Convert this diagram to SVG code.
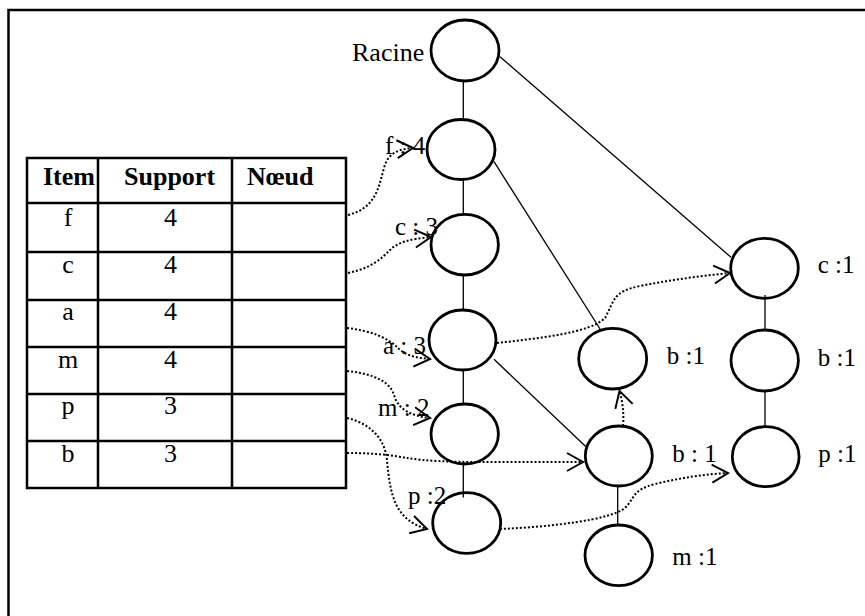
<svg xmlns="http://www.w3.org/2000/svg" width="865" height="616" viewBox="0 0 865 616">
<style>
  .frame{fill:none;stroke:#000;stroke-width:2.5}
  .tbl{fill:none;stroke:#000;stroke-width:2.5}
  .node{fill:none;stroke:#000;stroke-width:2.8}
  .edge{fill:none;stroke:#000;stroke-width:1.3}
  .link{fill:none;stroke:#000;stroke-width:2;stroke-dasharray:2 2}
  .ah{fill:none;stroke:#000;stroke-width:2;stroke-dasharray:none}
  text{font-family:"Liberation Serif","Times New Roman",serif;fill:#000}
  .lbl{font-size:25px}
  .hd{font-size:26px;font-weight:bold}
  .cell{font-size:26px;text-anchor:middle}
</style>
<defs>
  <marker id="arr" markerUnits="userSpaceOnUse" markerWidth="20" markerHeight="24" refX="0" refY="0" orient="auto" style="overflow:visible">
    <path class="ah" d="M-16,-9 L0,0 L-16,9"/>
  </marker>
</defs>
<rect class="frame" x="8.5" y="10" width="862" height="615"/>

<g id="table">
  <rect class="tbl" x="27" y="158" width="319" height="330"/>
  <line class="tbl" x1="98" y1="158" x2="98" y2="488"/>
  <line class="tbl" x1="232" y1="158" x2="232" y2="488"/>
  <line class="tbl" x1="27" y1="203" x2="346" y2="203"/>
  <line class="tbl" x1="27" y1="252" x2="346" y2="252"/>
  <line class="tbl" x1="27" y1="300" x2="346" y2="300"/>
  <line class="tbl" x1="27" y1="347" x2="346" y2="347"/>
  <line class="tbl" x1="27" y1="394" x2="346" y2="394"/>
  <line class="tbl" x1="27" y1="441" x2="346" y2="441"/>
  <text class="hd" x="43" y="185">Item</text>
  <text class="hd" x="124" y="185">Support</text>
  <text class="hd" x="247" y="185">Nœud</text>
  <text class="cell" x="68" y="226">f</text><text class="cell" x="170.5" y="226">4</text>
  <text class="cell" x="68" y="273">c</text><text class="cell" x="170.5" y="273">4</text>
  <text class="cell" x="68" y="320">a</text><text class="cell" x="170.5" y="320">4</text>
  <text class="cell" x="68" y="368">m</text><text class="cell" x="170.5" y="368">4</text>
  <text class="cell" x="68" y="414">p</text><text class="cell" x="170.5" y="414">3</text>
  <text class="cell" x="68" y="462">b</text><text class="cell" x="170.5" y="462">3</text>
</g>

<g id="connectors">
  <line class="edge" x1="463.3" y1="81" x2="463.3" y2="120"/>
  <line class="edge" x1="463.3" y1="179" x2="463.3" y2="214.5"/>
  <line class="edge" x1="463.3" y1="275" x2="463.3" y2="310"/>
  <line class="edge" x1="463.3" y1="370" x2="463.3" y2="404"/>
  <line class="edge" x1="463.3" y1="463" x2="463.3" y2="497.5"/>
  <line class="edge" x1="500" y1="56.7" x2="731" y2="257.3"/>
  <line class="edge" x1="494" y1="161.7" x2="600.7" y2="330"/>
  <line class="edge" x1="494" y1="359.3" x2="586" y2="446.7"/>
  <line class="edge" x1="617.7" y1="486.5" x2="617.7" y2="525"/>
  <line class="edge" x1="765" y1="295" x2="765" y2="330"/>
  <line class="edge" x1="765" y1="391.5" x2="765" y2="426.5"/>

  <path class="link" marker-end="url(#arr)" d="M348,215 C375,208 378,190 384,168 C388,152 400,149 413,148"/>
  <path class="link" marker-end="url(#arr)" d="M348,273 C372,268 382,258 390,250 C398,242 410,239 431,237"/>
  <path class="link" marker-end="url(#arr)" d="M347,328 C372,331 388,338 398,348 C406,356 418,358 430,359"/>
  <path class="link" marker-end="url(#arr)" d="M347,371 C375,374 390,382 394,395 C398,410 412,416 430,418"/>
  <path class="link" marker-end="url(#arr)" d="M347,418 C372,424 385,440 387,460 C390,495 395,520 427,529"/>
  <path class="link" marker-end="url(#arr)" d="M347,453 C380,453 395,456 407,458 C425,461 450,462 480,462 L583,462"/>
  <path class="link" marker-end="url(#arr)" d="M497,343 C540,338 590,333 605,318 C615,300 612,292 640,286 C670,280 700,276 730,273"/>
  <path class="link" marker-end="url(#arr)" d="M623,426 C624,415 623,403 619.5,391"/>
  <path class="link" marker-end="url(#arr)" d="M500,529 C550,527 610,520 625,508 C635,498 632,490 655,484 C680,478 705,474 728,473"/>
</g>

<g id="n-racine"><ellipse class="node" cx="465" cy="50.5" rx="34" ry="30.5"/><text class="lbl" x="352" y="61" style="font-size:26px">Racine</text></g>
<g id="n-f4"><ellipse class="node" cx="461" cy="149.5" rx="34" ry="30"/><text class="lbl" x="385" y="154">f : 4</text></g>
<g id="n-c3"><ellipse class="node" cx="464.7" cy="244.7" rx="33.7" ry="30.3"/><text class="lbl" x="395" y="235">c : 3</text></g>
<g id="n-a3"><ellipse class="node" cx="462.5" cy="340" rx="33.5" ry="30"/><text class="lbl" x="383" y="354">a : 3</text></g>
<g id="n-m2"><ellipse class="node" cx="464.7" cy="434" rx="33.7" ry="30"/><text class="lbl" x="378" y="415.5">m : 2</text></g>
<g id="n-p2"><ellipse class="node" cx="466.7" cy="523" rx="34" ry="30.3"/><text class="lbl" x="408" y="504">p :2</text></g>
<g id="n-b1a"><ellipse class="node" cx="612.7" cy="358.7" rx="34" ry="30.3"/><text class="lbl" x="666.7" y="364">b :1</text></g>
<g id="n-b1b"><ellipse class="node" cx="618.8" cy="456" rx="33.5" ry="30"/><text class="lbl" x="672.3" y="461.7">b : 1</text></g>
<g id="n-m1"><ellipse class="node" cx="618.7" cy="555.3" rx="33.7" ry="30.3"/><text class="lbl" x="672.3" y="565">m :1</text></g>
<g id="n-c1"><ellipse class="node" cx="764.5" cy="268.3" rx="33.8" ry="30"/><text class="lbl" x="817.7" y="273.3">c :1</text></g>
<g id="n-b1c"><ellipse class="node" cx="764.7" cy="360.5" rx="33.7" ry="30.5"/><text class="lbl" x="817.7" y="365.7">b :1</text></g>
<g id="n-p1"><ellipse class="node" cx="765.7" cy="456.7" rx="33.4" ry="30"/><text class="lbl" x="818.3" y="462.3">p :1</text></g>
</svg>
